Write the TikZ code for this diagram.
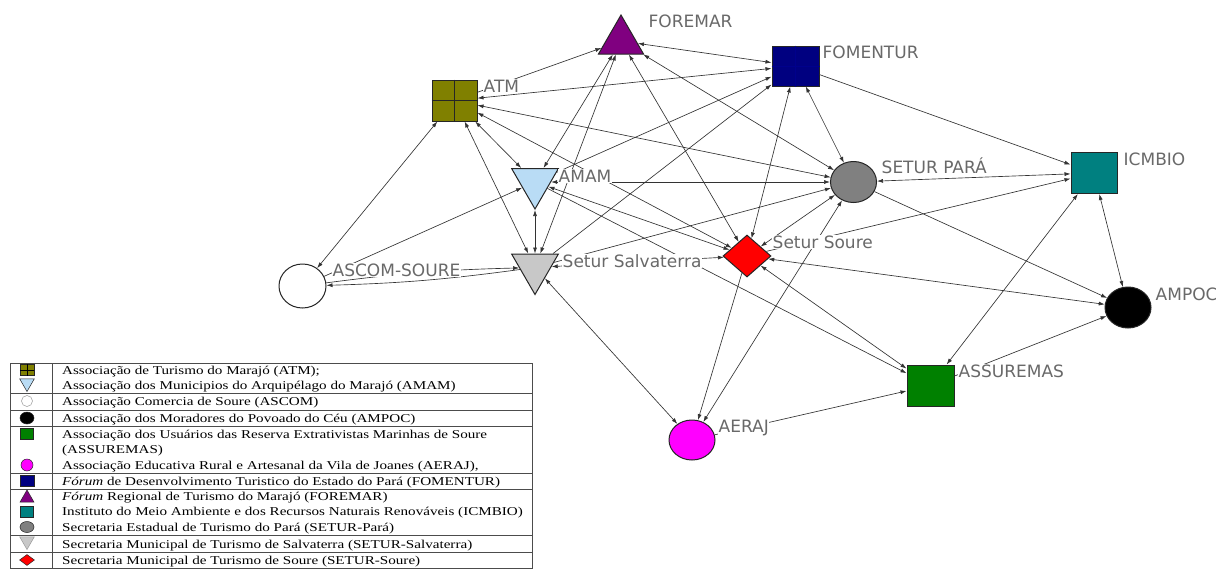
\documentclass[tikz,border=0pt]{standalone}
\usepackage{fontspec}
\setmainfont{Liberation Serif}
\newfontfamily\labfont{DejaVu Sans}
\newfontfamily\legfont[FakeStretch=1.26]{Liberation Serif}
\usepackage{tikz}
\usetikzlibrary{shapes.geometric, arrows.meta}

\definecolor{atmc}{RGB}{128,128,0}
\definecolor{fomenturc}{RGB}{0,0,128}
\definecolor{foremarc}{RGB}{128,0,128}
\definecolor{amamc}{RGB}{185,220,245}
\definecolor{salvc}{RGB}{200,200,200}
\definecolor{icmbioc}{RGB}{0,128,128}
\definecolor{assurc}{RGB}{0,128,0}
\definecolor{setparac}{RGB}{128,128,128}
\definecolor{aerajc}{RGB}{255,0,255}
\definecolor{sourec}{RGB}{255,0,0}
\definecolor{labc}{RGB}{105,105,105}

\tikzset{
  actor/.style={draw=black!85, line width=1pt, inner sep=0pt},
  tri/.style={actor, regular polygon, regular polygon sides=3, minimum size=52pt},
  dtri/.style={tri, shape border rotate=180, minimum size=54pt},
  sq/.style={actor, rectangle, minimum width=46pt, minimum height=41pt},
  ell/.style={actor, ellipse, minimum width=46pt, minimum height=41pt},
  dia/.style={actor, diamond, minimum width=48pt, minimum height=42pt},
  lab/.style={anchor=base west, font=\labfont\fontsize{17}{17}\selectfont, text=labc, fill=white, inner sep=0.5pt},
  tie/.style={draw=black!80, line width=0.65pt, -{Latex[length=6pt,width=4pt]}},
  mutual/.style={tie, {Latex[length=6pt,width=4pt]}-{Latex[length=6pt,width=4pt]}},
  key/.style={actor, line width=0.5pt},
  legline/.style={draw=black!70, line width=0.7pt},
  legtext/.style={anchor=base west, font=\legfont\fontsize{12}{12}\selectfont, inner sep=0pt},
}

\begin{document}
\begin{tikzpicture}[x=1pt, y=-1pt]
  \fill[white] (0,0) rectangle (1216,568);
  \useasboundingbox (0,0) rectangle (1216,568);
  \clip (0,0) rectangle (1216,568);

  % actors
  \node[tri, fill=foremarc] (foremar) at (621,41) {};
  \node[sq, fill=fomenturc, minimum width=47pt, minimum height=40pt] (fomentur) at (795.5,66) {};
  \draw[blue!55!black, line width=0.4pt] (fomentur.north) -- (fomentur.south) (fomentur.west) -- (fomentur.east);
  \node[sq, fill=atmc, minimum width=45pt] (atm) at (454.5,100.5) {};
  \draw[black!85, line width=0.8pt] (atm.north) -- (atm.south) (atm.west) -- (atm.east);
  \node[dtri, fill=amamc] (amam) at (535,182) {};
  \node[dtri, fill=salvc] (salv) at (535,267.5) {};
  \node[ell, fill=white, minimum width=47pt, minimum height=44pt] (ascom) at (302.5,286) {};
  \node[dia, fill=sourec] (soure) at (747,256) {};
  \node[ell, fill=setparac] (setpara) at (853.5,182) {};
  \node[sq, fill=icmbioc] (icmbio) at (1094,173) {};
  \node[ell, fill=black] (ampoc) at (1128,307.5) {};
  \node[sq, fill=assurc, minimum width=47pt] (assur) at (930.5,385.5) {};
  \node[ell, fill=aerajc, minimum height=40pt] (aeraj) at (692,440) {};

  % ties
  \draw[tie] (atm) -- (foremar);
  \draw[mutual] (atm) -- (fomentur);
  \draw[mutual] (atm) -- (setpara);
  \draw[mutual] (atm) -- (soure);
  \draw[mutual] (atm) -- (amam);
  \draw[mutual] (atm) -- (salv);
  \draw[mutual] (atm) -- (ascom);
  \draw[mutual] (foremar) -- (fomentur);
  \draw[mutual] (foremar) -- (setpara);
  \draw[mutual] (foremar) -- (soure);
  \draw[mutual] (foremar) -- (amam);
  \draw[mutual] (foremar) -- (salv);
  \draw[tie] (amam) -- (fomentur);
  \draw[tie] (salv) -- (fomentur);
  \draw[mutual] (fomentur) -- (soure);
  \draw[mutual] (fomentur) -- (setpara);
  \draw[tie] (fomentur) -- (icmbio);
  \draw[mutual] (setpara) -- (amam);
  \draw[tie] (salv) -- (setpara);
  \draw[mutual] (soure) -- (setpara);
  \draw[mutual] (setpara) -- (aeraj);
  \draw[mutual] (setpara) -- (icmbio);
  \draw[tie] (setpara) -- (ampoc);
  \draw[tie] (ascom) -- (amam);
  \draw[tie] (ascom) to[bend left=3] (salv);
  \draw[tie] (salv) to[bend left=3] (ascom);
  \draw[mutual] (amam) -- (salv);
  \draw[mutual] (amam) -- (soure);
  \draw[tie] (amam) -- (assur);
  \draw[mutual] (salv) -- (soure);
  \draw[mutual] (salv) -- (aeraj);
  \draw[tie] (soure) -- (aeraj);
  \draw[mutual] (soure) -- (assur);
  \draw[mutual] (soure) -- (ampoc);
  \draw[tie] (soure) -- (icmbio);
  \draw[tie] (aeraj) -- (assur);
  \draw[mutual] (icmbio) -- (assur);
  \draw[mutual] (icmbio) -- (ampoc);
  \draw[tie] (assur) -- (ampoc);

  % labels
  \node[lab] (foremarlab) at (648,27) {FOREMAR};
  \node[lab] (fomenturlab) at (822,58) {FOMENTUR};
  \node[lab] (atmlab) at (483,92) {ATM};
  \node[lab] (amamlab) at (558,182) {AMAM};
  \node[lab] (salvlab) at (562,267) {Setur Salvaterra};
  \node[lab] (ascomlab) at (332,276) {ASCOM-SOURE};
  \node[lab] (sourelab) at (772,248) {Setur Soure};
  \node[lab] (setparalab) at (881,173) {SETUR PARÁ};
  \node[lab] (icmbiolab) at (1123,165) {ICMBIO};
  \node[lab] (ampoclab) at (1155,300) {AMPOC};
  \node[lab] (assurlab) at (958,377) {ASSUREMAS};
  \node[lab] (aerajlab) at (718,432) {AERAJ};

  % legend
  \draw[legline] (10,363) rectangle (532,568);
  \draw[legline] (52,363) -- (52,568);
  \draw[legline] (10,393) -- (532,393);
  \draw[legline] (10,410) -- (532,410);
  \draw[legline] (10,426) -- (532,426);
  \draw[legline] (10,473) -- (532,473);
  \draw[legline] (10,489) -- (532,489);
  \draw[legline] (10,535) -- (532,535);
  \draw[legline] (10,552) -- (532,552);

  \node[key, rectangle, fill=atmc, minimum width=14pt, minimum height=11pt] (keyatm) at (27,370) {};
  \draw[black, line width=0.4pt] (keyatm.north) -- (keyatm.south) (keyatm.west) -- (keyatm.east);
  \node[key, regular polygon, regular polygon sides=3, shape border rotate=180, fill=amamc, minimum size=17pt] (keyamam) at (27,383) {};
  \node[key, circle, draw=black!40, fill=white, minimum size=11pt] (keyascom) at (27,401) {};
  \node[key, ellipse, fill=black, minimum width=14pt, minimum height=12pt] (keyampoc) at (27,418) {};
  \node[key, rectangle, fill=assurc, minimum width=13pt, minimum height=11pt] (keyassur) at (27,434) {};
  \node[key, circle, fill=aerajc, minimum size=12pt] (keyaeraj) at (27,465) {};
  \node[key, rectangle, fill=fomenturc, minimum width=14pt, minimum height=11pt] (keyfomentur) at (27,481) {};
  \node[key, regular polygon, regular polygon sides=3, fill=foremarc, minimum size=16pt] (keyforemar) at (27,498) {};
  \node[key, rectangle, fill=icmbioc, minimum width=13pt, minimum height=11pt] (keyicmbio) at (27,512) {};
  \node[key, ellipse, fill=setparac, minimum width=14pt, minimum height=11pt] (keysetpara) at (27,527) {};
  \node[key, regular polygon, regular polygon sides=3, shape border rotate=180, draw=black!40, fill=salvc, minimum size=17pt] (keysalv) at (27,541) {};
  \node[key, diamond, fill=sourec, minimum width=15pt, minimum height=11pt] (keysoure) at (27,560) {};

  \node[legtext] (txatm) at (62,374) {Associação de Turismo do Marajó (ATM);};
  \node[legtext] (txamam) at (62,389) {Associação dos Municipios do Arquipélago do Marajó (AMAM)};
  \node[legtext] (txascom) at (62,405) {Associação Comercia de Soure (ASCOM)};
  \node[legtext] (txampoc) at (62,422) {Associação dos Moradores do Povoado do Céu (AMPOC)};
  \node[legtext] (txassur) at (62,438) {Associação dos Usuários das Reserva Extrativistas Marinhas de Soure};
  \node[legtext] (txassurb) at (62,453) {(ASSUREMAS)};
  \node[legtext] (txaeraj) at (62,469) {Associação Educativa Rural e Artesanal da Vila de Joanes (AERAJ),};
  \node[legtext] (txfomentur) at (62,485) {\textit{Fórum} de Desenvolvimento Turistico do Estado do Pará (FOMENTUR)};
  \node[legtext] (txforemar) at (62,500) {\textit{Fórum} Regional de Turismo do Marajó (FOREMAR)};
  \node[legtext] (txicmbio) at (62,515) {Instituto do Meio Ambiente e dos Recursos Naturais Renováveis (ICMBIO)};
  \node[legtext] (txsetpara) at (62,531) {Secretaria Estadual de Turismo do Pará (SETUR-Pará)};
  \node[legtext] (txsalv) at (62,548) {Secretaria Municipal de Turismo de Salvaterra (SETUR-Salvaterra)};
  \node[legtext] (txsoure) at (62,564) {Secretaria Municipal de Turismo de Soure (SETUR-Soure)};
\end{tikzpicture}
\end{document}
